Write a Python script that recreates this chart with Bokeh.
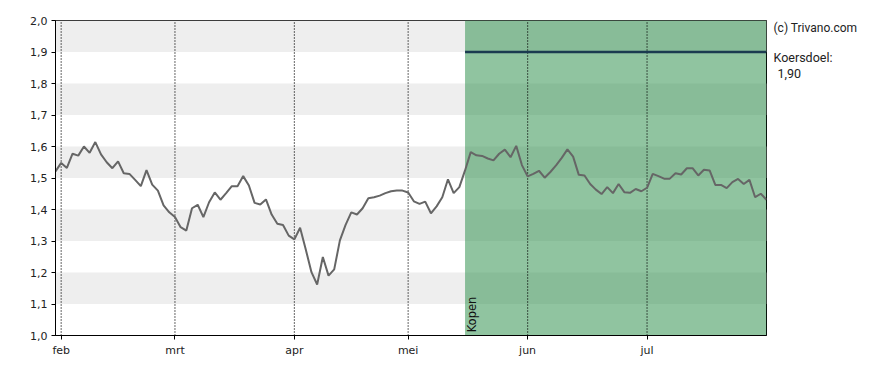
from bokeh.plotting import figure
from bokeh.models import Range1d, FixedTicker, CustomJSTickFormatter, Label
from bokeh.layouts import row
from bokeh.core.properties import value
from bokeh.embed import file_html
from bokeh.resources import INLINE

# ---- data (trading-day index based) ----
prices = [
    1.521, 1.548, 1.532, 1.577, 1.571, 1.600, 1.580, 1.614, 1.575, 1.550,
    1.531, 1.553, 1.515, 1.513, 1.494, 1.474, 1.525, 1.479, 1.460, 1.413,
    1.391, 1.376, 1.344, 1.333, 1.404, 1.415, 1.376, 1.423, 1.454, 1.431,
    1.452, 1.474, 1.474, 1.506, 1.476, 1.421, 1.416, 1.432, 1.384, 1.355,
    1.351, 1.317, 1.305, 1.342, 1.273, 1.201, 1.162, 1.249, 1.190, 1.210,
    1.302, 1.351, 1.391, 1.384, 1.404, 1.436, 1.439, 1.444, 1.452, 1.458,
    1.460, 1.460, 1.454, 1.426, 1.418, 1.425, 1.388, 1.410, 1.439, 1.496,
    1.452, 1.471, 1.524, 1.582, 1.572, 1.570, 1.562, 1.556, 1.577, 1.590,
    1.566, 1.602, 1.541, 1.505, 1.513, 1.523, 1.501, 1.519, 1.540, 1.564,
    1.591, 1.568, 1.510, 1.508, 1.481, 1.463, 1.449, 1.471, 1.452, 1.481,
    1.455, 1.453, 1.465, 1.458, 1.469, 1.513, 1.506, 1.498, 1.498, 1.515,
    1.511, 1.531, 1.531, 1.508, 1.526, 1.524, 1.478, 1.478, 1.468, 1.487,
    1.497, 1.481, 1.494, 1.439, 1.450, 1.431,
]
days = list(range(len(prices)))

month_ticks = [1, 21, 42, 62, 83, 104]
month_labels = ["feb", "mrt", "apr", "mei", "jun", "jul"]

y_ticks = [1.0, 1.1, 1.2, 1.3, 1.4, 1.5, 1.6, 1.7, 1.8, 1.9, 2.0]
band_bottoms = [1.1, 1.3, 1.5, 1.7, 1.9]

buy_start = 72          # index where the "Kopen" advice starts
target_price = 1.90     # koersdoel
advice_label = "Kopen"
target_text = "Koersdoel:"
target_value_text = f"{target_price:.2f}".replace(".", ",")
copyright_text = "(c) Trivano.com"

x_end = days[-1]

FW, FH = 711, 315
TOP, LEFT, BOTTOM, RIGHT = 20, 55, 27, 1
SIDE_W = 112

p = figure(
    output_backend="svg", toolbar_location=None,
    frame_width=FW, frame_height=FH,
    min_border_left=LEFT, min_border_right=RIGHT, min_border_top=TOP, min_border_bottom=BOTTOM,
    x_range=Range1d(0, x_end), y_range=Range1d(y_ticks[0], y_ticks[-1]),
    background_fill_color="white", border_fill_color="white",
)
p.xgrid.visible = False
p.ygrid.visible = False
p.outline_line_color = "black"
p.outline_line_width = 1
p.outline_line_alpha = 1

# grey bands
p.quad(left=0, right=x_end, bottom=band_bottoms, top=[b + 0.1 for b in band_bottoms],
       fill_color="#eeeeee", line_color=None)

# advice region
p.quad(left=[buy_start], right=[x_end], bottom=[y_ticks[0]], top=[y_ticks[-1]],
       fill_color="#359452", fill_alpha=0.55, line_color=None)

# dotted month lines
p.segment(x0=month_ticks, y0=y_ticks[0], x1=month_ticks, y1=y_ticks[-1],
          line_color="black", line_width=1.2, line_dash="1 2")

# target line
p.segment(x0=[buy_start], y0=[target_price], x1=[x_end], y1=[target_price],
          line_color="#1b3b50", line_width=2.5)

# price line
p.line(days, prices, line_color="#666666", line_width=2)

# axes
for ax in (p.xaxis[0], p.yaxis[0]):
    ax.axis_line_color = "black"
    ax.major_tick_line_color = "black"
    ax.minor_tick_line_color = None
    ax.major_tick_out = 4
    ax.major_tick_in = 0
    ax.major_label_text_font = "DejaVu Sans"
    ax.major_label_text_font_size = "11px"
    ax.major_label_text_color = "#222222"

p.xaxis.ticker = FixedTicker(ticks=month_ticks)
p.xaxis.major_label_overrides = {t: l for t, l in zip(month_ticks, month_labels)}
p.yaxis.ticker = FixedTicker(ticks=y_ticks)
p.yaxis.formatter = CustomJSTickFormatter(code="return tick.toFixed(1).replace('.', ',');")
p.xaxis.major_label_standoff = 4
p.yaxis.major_label_standoff = 4

p.add_layout(Label(x=buy_start + 2.45, y=y_ticks[0] + 0.01, text=advice_label, angle=1.5708,
                   text_font="DejaVu Sans", text_font_size="11.5px", text_color="#111111",
                   text_align="left", text_baseline="bottom"))

# side panel with the copyright and target texts (pixel-like coordinates, y down)
H = TOP + FH + BOTTOM
side = figure(
    output_backend="svg", toolbar_location=None,
    width=SIDE_W, height=H, min_border=0,
    x_range=Range1d(0, SIDE_W), y_range=Range1d(H, 0),
    background_fill_color="white", border_fill_color="white",
)
side.axis.visible = False
side.grid.visible = False
side.outline_line_color = None

side.text(x=[6], y=[8.5], text=[copyright_text], text_font=value("Roboto"),
          text_font_size="12px", text_color="#222222", text_baseline="middle")
side.text(x=[6], y=[43], text=[target_text], text_font=value("Roboto"),
          text_font_size="12.5px", text_color="#222222", text_baseline="middle")
side.text(x=[10], y=[60.5], text=[target_value_text], text_font=value("Roboto"),
          text_font_size="12.5px", text_color="#222222", text_baseline="middle")

layout = row(p, side, spacing=0)
open("out.html", "w").write(file_html(layout, INLINE))
